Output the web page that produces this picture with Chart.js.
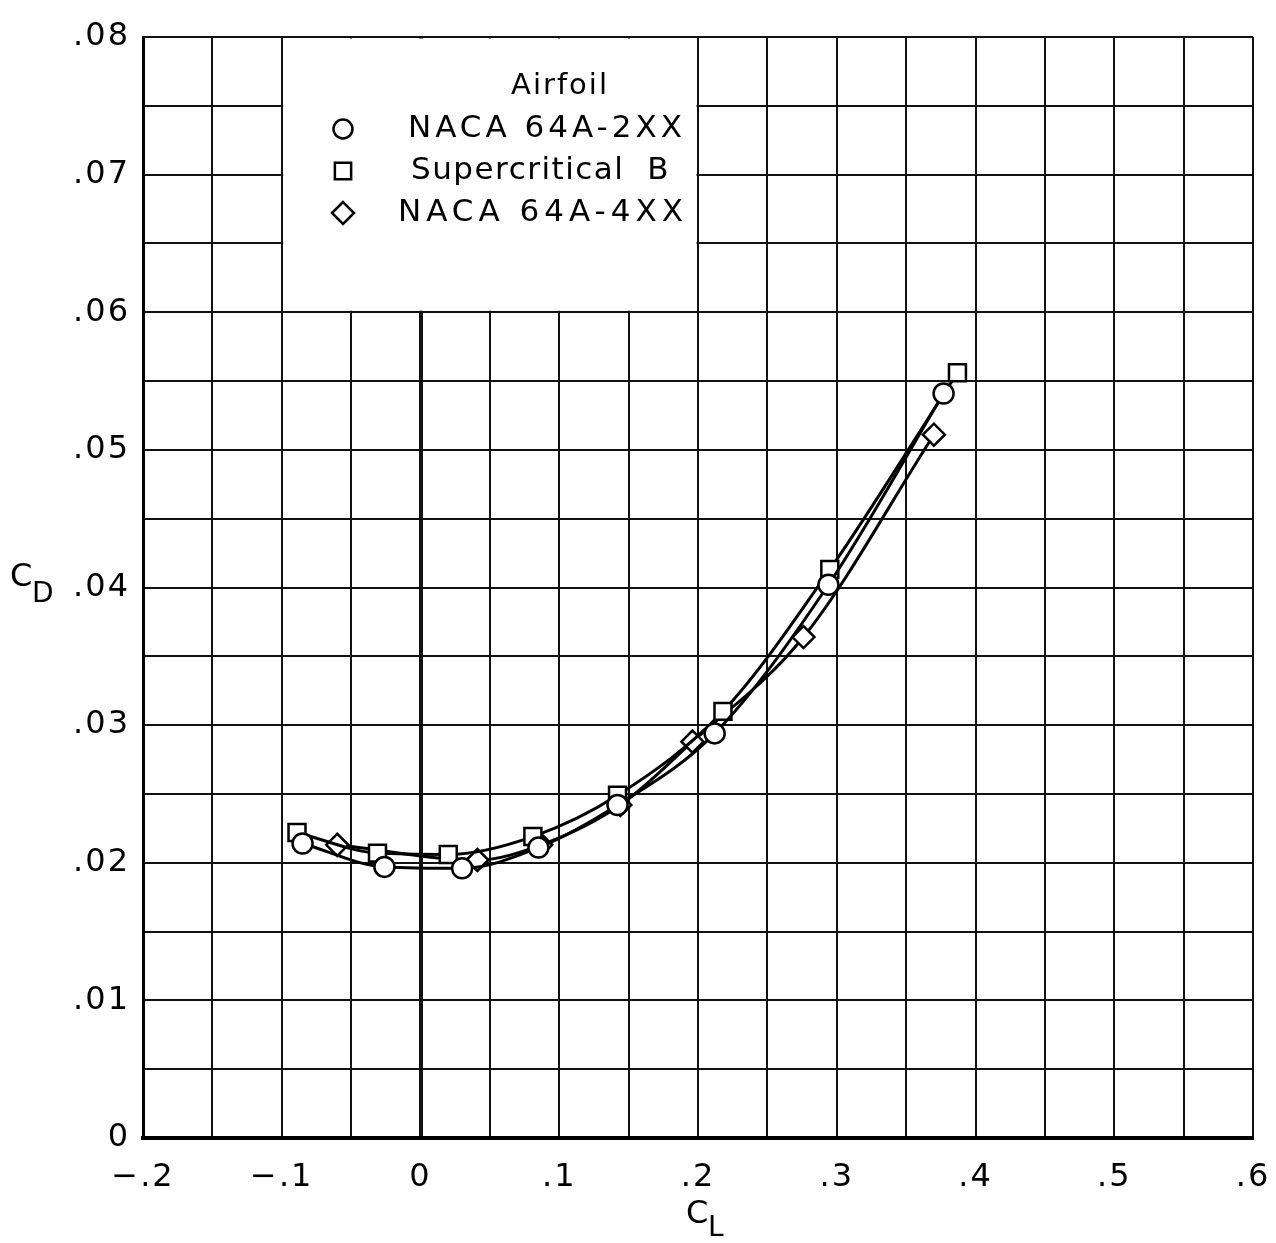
<!DOCTYPE html>
<html>
<head>
<meta charset="utf-8">
<title>CD vs CL</title>
<script src="https://cdn.jsdelivr.net/npm/chart.js@4.4.1/dist/chart.umd.min.js"></script>
<style>
    html, body { margin: 0; padding: 0; background: #fff; }
    canvas { display: block; }
</style>
</head>
<body>
<canvas id="dragChart" width="1276" height="1243"></canvas>
<script>
// values (CL, CD)
const naca2xxCL = [-0.085, -0.026, 0.030, 0.085, 0.142, 0.212, 0.294, 0.377];
const naca2xxCD = [0.0214, 0.0197, 0.0196, 0.0211, 0.0242, 0.0294, 0.0402, 0.0541];

const superBCL = [-0.089, -0.031, 0.020, 0.081, 0.142, 0.218, 0.295, 0.387];
const superBCD = [0.0222, 0.0207, 0.0206, 0.0219, 0.0249, 0.0310, 0.0413, 0.0556];

const naca4xxCL = [-0.060, 0.041, 0.087, 0.144, 0.196, 0.276, 0.370];
const naca4xxCD = [0.0213, 0.0202, 0.0213, 0.0242, 0.0288, 0.0364, 0.0511];

const xTickLabels = ['\u2212.2', '\u2212.1', '0', '.1', '.2', '.3', '.4', '.5', '.6'];
const yTickLabels = ['0', '.01', '.02', '.03', '.04', '.05', '.06', '.07', '.08'];

const legendTitle = 'Airfoil';
const legendNames = ['NACA 64A-2XX', 'Supercritical  B', 'NACA 64A-4XX'];
const legendStyles = ['circle', 'rect', 'rectRot'];

const FONT = '"DejaVu Sans", sans-serif';

function toPoints(xs, ys) {
    return xs.map((x, i) => ({ x: x, y: ys[i] }));
}

function makeSeries(label, xs, ys, style, radius) {
    return {
        label: label,
        data: toPoints(xs, ys),
        showLine: true,
        cubicInterpolationMode: 'monotone',
        borderColor: '#000',
        borderWidth: 3,
        pointStyle: style,
        pointRadius: radius,
        pointBorderWidth: 2.5,
        pointBackgroundColor: '#fff',
        pointBorderColor: '#000'
    };
}

// white legend panel over the grid, plus the legend text and the CD / CL titles
const extrasPlugin = {
    id: 'extras',
    beforeDraw(chart) {
        // wider lettering for the tick labels
        chart.ctx.letterSpacing = '2px';
    },
    beforeDatasetsDraw(chart) {
        const ctx = chart.ctx;
        const xs = chart.scales.x, ys = chart.scales.y;
        const left = xs.getPixelForValue(-0.1), right = xs.getPixelForValue(0.2);
        const top = ys.getPixelForValue(0.08), bottom = ys.getPixelForValue(0.06);
        ctx.save();
        ctx.fillStyle = '#fff';
        ctx.fillRect(left + 1.5, top + 1.5, right - left - 3, bottom - top - 3);
        ctx.restore();
    },
    afterDraw(chart) {
        const ctx = chart.ctx;
        ctx.save();
        ctx.fillStyle = '#000';
        ctx.textBaseline = 'middle';
        ctx.font = '29px ' + FONT;
        ctx.letterSpacing = '2px';
        ctx.textAlign = 'center';
        ctx.fillText(legendTitle, 560, 86);

        ctx.textAlign = 'left';
        ctx.font = '31px ' + FONT;
        const rowY = [129, 171, 213];
        const textX = [408, 411, 398];
        const spacing = ['4px', '1.5px', '5px'];
        const radius = [9.5, 11.5, 11];
        legendNames.forEach((name, i) => {
            ctx.letterSpacing = spacing[i];
            ctx.fillStyle = '#000';
            ctx.fillText(name, textX[i], rowY[i]);
            ctx.lineWidth = 2.5;
            ctx.strokeStyle = '#000';
            ctx.fillStyle = '#fff';
            Chart.helpers.drawPoint(ctx, {
                pointStyle: legendStyles[i],
                radius: radius[i],
                rotation: 0,
                borderWidth: 2.5
            }, 343, rowY[i]);
        });

        ctx.fillStyle = '#000';
        ctx.letterSpacing = '0px';
        ctx.font = '32px ' + FONT;
        ctx.fillText('C', 10, 578);
        ctx.fillText('C', 686, 1215);
        ctx.font = '28px ' + FONT;
        ctx.fillText('D', 32, 595);
        ctx.fillText('L', 708, 1229);
        ctx.restore();
    }
};

const chart = new Chart(document.getElementById('dragChart').getContext('2d'), {
    type: 'scatter',
    data: {
        datasets: [
            makeSeries('NACA 64A-2XX', naca2xxCL, naca2xxCD, 'circle', 10),
            makeSeries('Supercritical B', superBCL, superBCD, 'rect', 12),
            makeSeries('NACA 64A-4XX', naca4xxCL, naca4xxCD, 'rectRot', 11)
        ]
    },
    options: {
        responsive: false,
        animation: false,
        layout: { padding: { top: 37, right: 23, left: 0, bottom: 0 } },
        plugins: {
            legend: { display: false },
            tooltip: { enabled: false }
        },
        scales: {
            x: {
                type: 'linear',
                min: -0.2,
                max: 0.6,
                afterFit: scale => {
                    scale.height = 105;
                    scale.paddingLeft = 0;
                    scale.paddingRight = 0;
                },
                border: { color: '#000', width: 4 },
                grid: {
                    color: '#111',
                    drawTicks: false,
                    lineWidth: c => (Math.abs(c.tick.value) < 1e-9 ? 4 : 2)
                },
                ticks: {
                    stepSize: 0.05,
                    padding: 20,
                    color: '#000',
                    font: { family: FONT, size: 32 },
                    callback: v => {
                        const k = Math.round(v * 20);
                        return k % 2 === 0 ? xTickLabels[k / 2 + 2] : '';
                    }
                }
            },
            y: {
                type: 'linear',
                min: 0,
                max: 0.08,
                afterFit: scale => {
                    scale.width = 143;
                    scale.paddingTop = 0;
                    scale.paddingBottom = 0;
                },
                border: { color: '#000', width: 3 },
                grid: { color: '#111', lineWidth: 2, drawTicks: false },
                ticks: {
                    stepSize: 0.005,
                    padding: 13,
                    color: '#000',
                    font: { family: FONT, size: 32 },
                    callback: v => {
                        const k = Math.round(v * 200);
                        return k % 2 === 0 ? yTickLabels[k / 2] : '';
                    }
                }
            }
        }
    },
    plugins: [extrasPlugin]
});
</script>
</body>
</html>
